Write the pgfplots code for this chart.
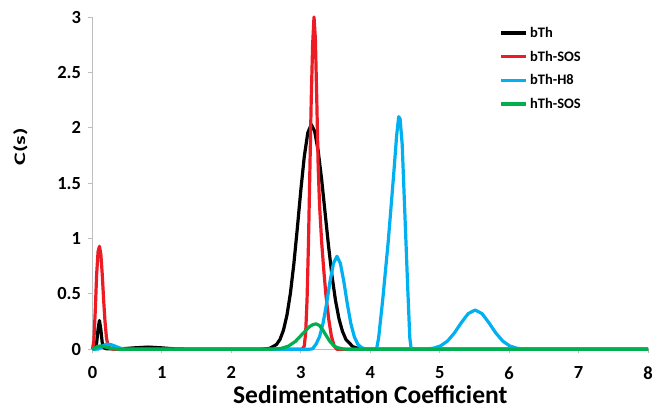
\documentclass[border=0pt]{standalone}
\usepackage{fontspec}
\setmainfont{Carlito}
\usepackage{graphicx}
\usepackage{pgfplots}
\pgfplotsset{compat=1.18}

\definecolor{sosred}{RGB}{237,28,36}
\definecolor{hcyan}{RGB}{0,176,240}
\definecolor{hgreen}{RGB}{0,176,80}
\definecolor{axisgray}{RGB}{190,190,190}

\begin{document}
\begin{tikzpicture}
  \begin{axis}[
      scale only axis,
      width=555.5pt, height=332.3pt,
      xmin=0, xmax=8, ymin=0, ymax=3,
      xtick={0,1,...,8},
      ytick={0,0.5,...,3},
      axis lines=left,
      axis line style={-, draw=axisgray, line width=0.9pt},
      tick style={draw=axisgray, line width=0.9pt},
      tick align=outside,
      major tick length=4pt,
      ticklabel style={font=\fontsize{18.5}{21}\selectfont\bfseries},
      /pgf/number format/assume math mode=true,
      yticklabel style={xshift=-4pt},
      xticklabel style={yshift=-10pt},
      xlabel={Sedimentation Coefficient},
      ylabel={\scalebox{1.5}[1]{C(s)}},
      xlabel style={font=\fontsize{25.5}{28}\selectfont\bfseries,
        at={(axis description cs:0.5,-0.1616)}, anchor=base},
      ylabel style={font=\fontsize{16}{19}\selectfont\bfseries,
        at={(axis description cs:-0.13,0.61)}, anchor=center},
      clip=false,
      legend style={draw=none, fill=none,
        font=\fontsize{14.5}{17}\selectfont\bfseries,
        at={(axis description cs:0.733,0.976)}, anchor=north west,
        row sep=8pt, inner sep=0pt, cells={anchor=west}},
      legend image code/.code={\draw[#1] (0pt,0pt) -- (25pt,0pt);},
      every axis plot/.append style={line width=3.2pt, line join=round, mark=none},
    ]

    % bTh
    \addplot[black] coordinates {
      (0,0) (0.04,0.01) (0.06,0.06) (0.08,0.18) (0.10,0.26) (0.12,0.18)
      (0.14,0.06) (0.16,0.015) (0.20,0.005) (0.30,0.004) (0.45,0.006)
      (0.6,0.013) (0.8,0.02) (1.0,0.013) (1.2,0.003) (1.5,0) (2.3,0)
      (2.45,0.002) (2.55,0.008) (2.65,0.043) (2.70,0.089) (2.75,0.172)
      (2.80,0.307) (2.85,0.505) (2.90,0.773) (2.95,1.094) (3.00,1.435)
      (3.05,1.740) (3.10,1.953) (3.15,2.03) (3.20,1.967) (3.25,1.791)
      (3.30,1.533) (3.35,1.231) (3.40,0.929) (3.45,0.659) (3.50,0.439)
      (3.55,0.275) (3.60,0.162) (3.65,0.089) (3.75,0.023) (3.85,0.004)
      (4.0,0) (8,0)
    };
    \addlegendentry{bTh}

    % bTh-SOS
    \addplot[sosred] coordinates {
      (0,0) (0.02,0.08) (0.04,0.35) (0.06,0.68) (0.08,0.88) (0.10,0.93)
      (0.12,0.86) (0.14,0.68) (0.16,0.45) (0.18,0.25) (0.20,0.11)
      (0.22,0.04) (0.25,0.01) (0.30,0) (3.02,0) (3.05,0.03) (3.07,0.15)
      (3.09,0.45) (3.11,0.95) (3.13,1.6) (3.15,2.25) (3.17,2.75) (3.19,3.0)
      (3.21,2.8) (3.23,2.25) (3.25,1.65) (3.27,1.3) (3.30,0.97) (3.33,0.72)
      (3.36,0.5) (3.40,0.28) (3.44,0.12) (3.48,0.03) (3.52,0) (8,0)
    };
    \addlegendentry{bTh-SOS}

    % bTh-H8
    \addplot[hcyan] coordinates {
      (0,0) (0.08,0.002) (0.12,0.015) (0.16,0.035) (0.20,0.045) (0.25,0.045)
      (0.30,0.035) (0.35,0.022) (0.40,0.01) (0.45,0.003) (0.5,0) (3.12,0)
      (3.17,0.005) (3.22,0.047) (3.27,0.114) (3.32,0.234) (3.37,0.409)
      (3.42,0.61) (3.47,0.775) (3.52,0.84) (3.57,0.775) (3.62,0.61)
      (3.67,0.409) (3.72,0.234) (3.77,0.114) (3.82,0.047) (3.87,0.017)
      (3.92,0.005) (3.98,0) (4.09,0) (4.12,0.1) (4.18,0.45) (4.26,0.98)
      (4.34,1.6) (4.38,1.93) (4.41,2.1) (4.43,2.08) (4.46,1.85) (4.50,1.2)
      (4.54,0.55) (4.57,0.1) (4.59,0) (4.75,0) (4.81,0.003) (4.91,0.010)
      (5.01,0.030) (5.11,0.073) (5.21,0.146) (5.31,0.239) (5.41,0.322)
      (5.51,0.355) (5.61,0.322) (5.71,0.239) (5.81,0.146) (5.91,0.073)
      (6.01,0.030) (6.11,0.010) (6.21,0.003) (6.35,0) (8,0)
    };
    \addlegendentry{bTh-H8}

    % hTh-SOS
    \addplot[hgreen] coordinates {
      (0,0) (0.04,0.015) (0.08,0.028) (0.12,0.03) (0.16,0.025) (0.22,0.015)
      (0.3,0.006) (0.4,0) (2.5,0) (2.62,0.002) (2.72,0.009) (2.82,0.028)
      (2.92,0.070) (3.02,0.136) (3.12,0.202) (3.17,0.222) (3.22,0.23)
      (3.27,0.214) (3.32,0.171) (3.37,0.119) (3.42,0.070) (3.47,0.036)
      (3.52,0.016) (3.62,0.002) (3.75,0) (8,0)
    };
    \addlegendentry{hTh-SOS}

  \end{axis}
  \pgfresetboundingbox
  \path[use as bounding box]
    ([shift={(-92.5pt,-63.7pt)}]current axis.south west) rectangle
    ([shift={(570.5pt,349.3pt)}]current axis.south west);
\end{tikzpicture}
\end{document}
